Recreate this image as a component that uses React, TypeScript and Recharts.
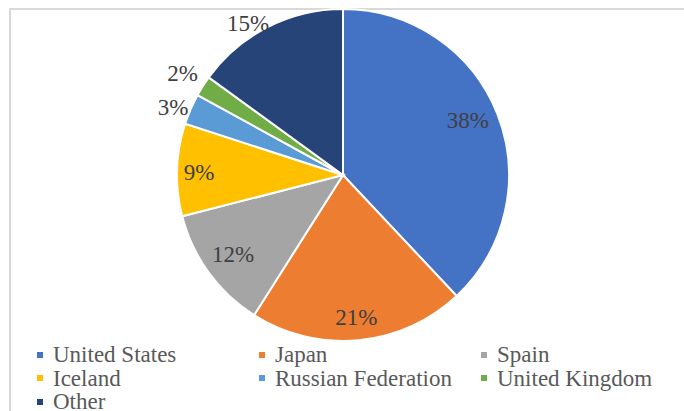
import { PieChart, Pie, Cell, Legend } from "recharts";

const countries = ["United States", "Japan", "Spain", "Iceland", "Russian Federation", "United Kingdom", "Other"];
const shares = [38, 21, 12, 9, 3, 2, 15];
const colors = ["#4472C4", "#ED7D31", "#A5A5A5", "#FFC000", "#5B9BD5", "#70AD47", "#264478"];
// label placement: distance from centre (px) and angular nudge (deg)
const labelRadius = [136, 143, 136, 144, 183, 190, 179];
const labelShift = [1.8, 0, 0, 0.8, 1.6, 0, 5];

const data = countries.map((name, i) => ({ name, value: shares[i] }));

const RAD = Math.PI / 180;
const FONT = '"Liberation Serif", "Times New Roman", serif';

const renderLabel = ({ cx, cy, midAngle, percent, index }) => {
    const r = labelRadius[index];
    const a = (midAngle + labelShift[index]) * RAD;
    const x = cx + r * Math.cos(-a);
    const y = cy + r * Math.sin(-a);
    return (
        <text x={x} y={y} fill="#404040" textAnchor="middle" dominantBaseline="central"
            style={{ fontFamily: FONT, fontSize: 23 }}>
            {Math.round(percent * 100)}%
        </text>
    );
};

const renderLegend = () => (
    <div style={{ display: "grid", gridTemplateColumns: "222px 222px 200px", fontFamily: FONT, fontSize: 23, color: "#595959", lineHeight: "23.5px" }}>
        {data.map((d, i) => (
            <div key={d.name} style={{ display: "flex", alignItems: "center", whiteSpace: "nowrap" }}>
                <span style={{ width: 6, height: 6, background: colors[i], marginRight: 10, display: "inline-block" }} />
                {d.name}
            </div>
        ))}
    </div>
);

export default function App() {
    return (
        <div style={{ position: "relative", width: 684, height: 411, background: "#fff", overflow: "hidden" }}>
            <style>{`body{margin:0}`}</style>
            <div style={{ position: "absolute", left: 9, top: 8, right: 0, bottom: 0, borderTop: "2px solid #d9d9d9", borderLeft: "2px solid #d9d9d9" }} />
            <PieChart width={684} height={411} margin={{ top: 0, right: 0, bottom: 0, left: 0 }}
                style={{ position: "absolute", left: 0, top: 0 }}>
                <Pie
                    data={data}
                    dataKey="value"
                    nameKey="name"
                    cx={343}
                    cy={175}
                    outerRadius={166}
                    startAngle={90}
                    endAngle={-270}
                    stroke="#ffffff"
                    strokeWidth={2}
                    label={renderLabel}
                    labelLine={false}
                    isAnimationActive={false}
                >
                    {data.map((entry, index) => (
                        <Cell key={index} fill={colors[index]} />
                    ))}
                </Pie>
                <Legend content={renderLegend} wrapperStyle={{ left: 37, top: 343, width: 647 }} />
            </PieChart>
        </div>
    );
}
